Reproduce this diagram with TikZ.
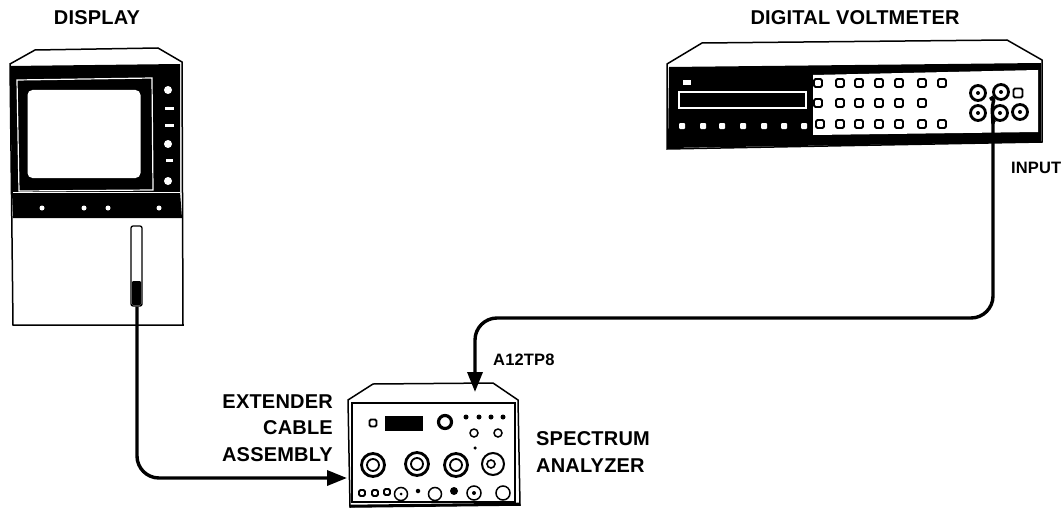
\documentclass[tikz,border=0pt]{standalone}
\usepackage{fontspec}
\setmainfont{Liberation Sans}
\usepackage{tikz}
\usetikzlibrary{positioning, calc, arrows.meta}
\newfontfamily\labelfont[LetterSpace=1]{Liberation Sans}
\tikzset{
    label text/.style={font=\labelfont\bfseries\fontsize{20}{26.5}\selectfont, inner sep=0pt},
    small text/.style={font=\labelfont\bfseries\fontsize{16.5}{18}\selectfont, inner sep=0pt},
    cable/.style={line width=3.4pt, rounded corners=22pt},
    cable arrow/.style={cable, -{Triangle[length=20pt, width=15pt]}},
    key/.style={draw, line width=1.8pt, rounded corners=1.5pt, fill=white, minimum width=8pt, minimum height=8pt, inner sep=0pt},
    led/.style={circle, fill=white, minimum size=#1, inner sep=0pt},
    dot/.style={circle, fill=black, minimum size=#1, inner sep=0pt},
    ring/.style={circle, draw, line width=1.5pt, fill=white, minimum size=#1, inner sep=0pt},
    jack/.style={circle, draw, line width=2.8pt, fill=white, minimum size=#1, inner sep=0pt}
}
\begin{document}
\begin{tikzpicture}[x=1pt, y=-1pt]
    \useasboundingbox (0,0) rectangle (1064,508);

    % Display
    \node[label text] (displaytitle) at (97,18) {DISPLAY};
    \draw[line width=1.5pt, fill=white] (10,64) -- (35,50) -- (158,48) -- (182,62) -- (183,325) -- (13,325) -- cycle;
    \fill (10,66) -- (180,64) -- (180,192) -- (182,218) -- (13,218) -- (12,192) -- cycle;
    \draw[white, line width=1.2pt] (17,80) -- (152,78) -- (153,190) -- (19,191) -- cycle;
    \draw[white, line width=1pt] (13,192) -- (180,192);
    \node[fill=white, rounded corners=5pt, minimum width=113pt, minimum height=88pt, inner sep=0pt] (screen) at (84,134) {};
    \foreach \yy in {90,144,181} \node[led=8pt] (knob\yy) at (168,\yy) {};
    \foreach \yy/\ww in {109/9pt,125/9pt,160/7pt} \node[fill=white, minimum width=\ww, minimum height=3pt, inner sep=0pt] (bar\yy) at (169,\yy) {};
    \foreach \xx in {42,84,108,159} \node[led=5pt] (btn\xx) at (\xx,208) {};
    \node[draw, line width=1.3pt, rounded corners=2pt, fill=white, minimum width=11pt, minimum height=80pt, inner sep=0pt] (slot) at (136.5,266) {};
    \fill[rounded corners=1pt] (132,281) rectangle (141,305);

    % Digital voltmeter
    \node[label text] (dvmtitle) at (855,18) {DIGITAL VOLTMETER};
    \draw[line width=1.5pt, fill=white] (667,64) -- (702,43) -- (1007,40) -- (1042,60) -- (1042,142) -- (667,149) -- cycle;
    \fill (669,67) -- (1041,63) -- (1041,142) -- (668,148) -- cycle;
    \fill[white] (813,75) -- (1038,70) -- (1038,132) -- (813,135) -- cycle;
    \node[fill=white, minimum width=8pt, minimum height=5pt, inner sep=0pt] (dvmlamp) at (687,83) {};
    \node[draw=white, line width=1.2pt, fill=black, minimum width=127pt, minimum height=16pt, inner sep=0pt] (dvmread) at (742.5,100) {};
    \foreach \xx in {682,703,722,743,764,784,804} \node[fill=white, rounded corners=1pt, minimum size=6pt, inner sep=0pt] (dvmlow\xx) at (\xx,126) {};
    \foreach \xx in {818,840,859,879,899,922,942} \node[key] (rowa\xx) at (\xx,83) {};
    \foreach \xx in {818,840,859,879,899,922} \node[key] (rowb\xx) at (\xx,103) {};
    \foreach \xx in {820,840,859,879,899,922,942} \node[key] (rowc\xx) at (\xx,124) {};
    \node[jack=15pt] (jacka) at (978,93) {};
    \node[jack=15pt] (jackb) at (1001,92) {};
    \node[key, minimum width=9pt, minimum height=9pt] (jacksq) at (1018,93) {};
    \node[jack=15pt] (jackc) at (978,113) {};
    \node[jack=15pt] (jackd) at (1000,113) {};
    \node[jack=15pt] (jacke) at (1020,112) {};
    \foreach \jj in {a,b,c,d,e} \node[dot=4pt] (pin\jj) at (jack\jj) {};
    \node[small text, right=9pt of jackd, yshift=-55pt, xshift=-7pt] (inputlabel) {INPUT};

    % Spectrum analyzer
    \draw[line width=1.5pt, fill=white] (348,400) -- (373,384) -- (493,383) -- (518,400) -- (520,505) -- (350,507) -- cycle;
    \node[draw, line width=1.3pt, minimum width=163pt, minimum height=99pt, inner sep=0pt] (analyzer) at (433.5,452.5) {};
    \draw[line width=2.6pt] (350,506) -- (520,504);
    \coordinate (analyzerleft) at (347,478);
    \coordinate (analyzertop) at (475,392);
    \node[key, minimum size=7pt] (anakey) at (373,423) {};
    \node[fill=black, minimum width=38pt, minimum height=15pt, inner sep=0pt] (anaread) at (404,423.5) {};
    \node[circle, draw, line width=3.2pt, minimum size=13pt, inner sep=0pt] (anaknob) at (445,422) {};
    \foreach \xx in {466,479,491,503} \node[dot=5pt] (anadot\xx) at (\xx,417) {};
    \foreach \xx in {474,498} \node[ring=8pt] (anaring\xx) at (\xx,433) {};
    \node[dot=3.5pt] (anadotm) at (475,448) {};
    \foreach \xx/\yy in {373/465,417/464,456/465} {
        \node[jack=23pt] (big\xx) at (\xx,\yy) {};
        \node[circle, draw, line width=1.8pt, minimum size=12pt, inner sep=0pt] (bigin\xx) at (\xx,\yy) {};
    }
    \node[ring=22pt, line width=2pt] (bigr) at (493,464) {};
    \node[circle, draw, line width=1.6pt, minimum size=8pt, inner sep=0pt] (bigrin) at (491,464) {};
    \foreach \xx/\yy in {362/493,375/493,387/492} \node[key, minimum size=6pt] (anasq\xx) at (\xx,\yy) {};
    \node[ring=13pt] (anaa) at (401,494) {};
    \node[dot=3pt] (anaad) at (401,494) {};
    \node[dot=4.5pt] (anab) at (418,491) {};
    \node[ring=13pt] (anac) at (435,494) {};
    \node[dot=8pt] (anad) at (454,491) {};
    \node[ring=14pt] (anae) at (474,493) {};
    \node[dot=4pt] (anaed) at (474,493) {};
    \node[ring=14pt] (anaf) at (503,493) {};

    % Cables
    \draw[cable arrow] ($(slot.south)+(0.5,0)$) |- (analyzerleft);
    \coordinate (busa) at (993,318);
    \draw[cable arrow] (993,122) -- (busa) -- (analyzertop |- busa) -- (analyzertop);
    \draw[line width=3.4pt, rounded corners=6pt] (jackb) -- (995,96) -- (992,106) -- (993,124);
    \draw[line width=3.4pt] (jackd) -- (993,122);

    % Labels
    \node[small text, anchor=west] (a12label) at (493,360) {A12TP8};
    \node[label text, align=right, anchor=east] (extlabel) at (333,428) {EXTENDER\\CABLE\\ASSEMBLY};
    \node[label text, align=left, anchor=west] (speclabel) at (536,452) {SPECTRUM\\ANALYZER};
\end{tikzpicture}
\end{document}
